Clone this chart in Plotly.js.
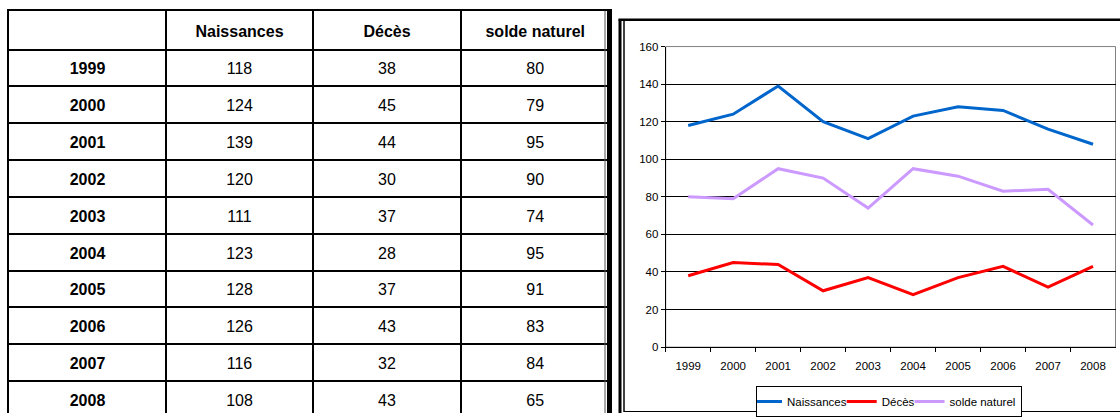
<!DOCTYPE html>
<html>
<head>
<meta charset="utf-8">
<script src="https://cdn.plot.ly/plotly-3.0.1.min.js"></script>
<style>
  html, body { margin: 0; padding: 0; background: #fff; }
  #chart { width: 1120px; height: 417px; }
</style>
</head>
<body>
<div id="chart"></div>
<script>
// ---- data ----
const years = ['1999', '2000', '2001', '2002', '2003', '2004', '2005', '2006', '2007', '2008'];
const naissances = [118, 124, 139, 120, 111, 123, 128, 126, 116, 108];
const deces = [38, 45, 44, 30, 37, 28, 37, 43, 32, 43];
const solde = [80, 79, 95, 90, 74, 95, 91, 83, 84, 65];
const seriesNames = ['Naissances', 'Décès', 'solde naturel'];
const yTicks = [0, 20, 40, 60, 80, 100, 120, 140, 160];

// ---- layout constants ----
const W = 1120, H = 417;
const FONT = 'Liberation Sans, Arial, sans-serif';
const colEdges = [9, 166, 313, 461, 609.5];
const headerH = 39, rowH = 37.2, textDrop = 2.5;
const tableTop = 11;
const tableVisible = H - tableTop;
const rowEdges = [headerH];
years.forEach((_, i) => rowEdges.push(headerH + rowH * (i + 1)));
const colCenter = i => (colEdges[i] + colEdges[i + 1]) / 2;
const rowCenter = i => headerH + rowH * (i + 0.5) + textDrop;

const traces = [];

// ---- table (drawn on its own axes) ----
traces.push({
  type: 'scatter', mode: 'text', xaxis: 'x2', yaxis: 'y2', showlegend: false, hoverinfo: 'skip',
  x: seriesNames.map((_, j) => colCenter(j + 1)),
  y: seriesNames.map(() => headerH / 2 + textDrop),
  text: seriesNames,
  textfont: { family: FONT, size: 16, color: '#000', weight: 700 }
});
traces.push({
  type: 'scatter', mode: 'text', xaxis: 'x2', yaxis: 'y2', showlegend: false, hoverinfo: 'skip',
  x: years.map(() => colCenter(0)),
  y: years.map((_, i) => rowCenter(i)),
  text: years,
  textfont: { family: FONT, size: 16, color: '#000', weight: 700 }
});
[naissances, deces, solde].forEach((arr, j) => {
  traces.push({
    type: 'scatter', mode: 'text', xaxis: 'x2', yaxis: 'y2', showlegend: false, hoverinfo: 'skip',
    x: arr.map(() => colCenter(j + 1)),
    y: arr.map((_, i) => rowCenter(i)),
    text: arr.map(String),
    textfont: { family: FONT, size: 16, color: '#000' }
  });
});

// ---- line chart ----
const colors = ['#0066CC', '#FF0000', '#CC99FF'];
[naissances, deces, solde].forEach((arr, j) => {
  traces.push({
    type: 'scatter', mode: 'lines', xaxis: 'x', yaxis: 'y',
    name: seriesNames[j], x: years, y: arr,
    line: { color: colors[j], width: 3 },
    hoverinfo: 'skip'
  });
});

const px = v => v / W;
const py = v => 1 - v / H;

const layout = {
  width: W, height: H,
  margin: { l: 0, r: 0, t: 0, b: 0, pad: 0 },
  paper_bgcolor: '#fff', plot_bgcolor: 'rgba(0,0,0,0)',
  font: { family: FONT, color: '#000', size: 11.5 },
  hovermode: false,
  showlegend: true,
  legend: {
    orientation: 'h', x: px(756), y: py(390), xanchor: 'left', yanchor: 'top',
    bordercolor: '#000', borderwidth: 1, bgcolor: '#fff',
    font: { family: FONT, size: 11.5, color: '#000' },
    itemwidth: 30, indentation: -10, tracegroupgap: 0
  },
  xaxis: {
    type: 'category', domain: [px(665.7), px(1115.5)], anchor: 'y',
    range: [-0.5, years.length - 0.5],
    tickson: 'boundaries', ticks: 'outside', ticklen: 4, tickwidth: 1, tickcolor: '#000',
    ticklabelstandoff: 8,
    showgrid: false, showline: true, linecolor: '#000', linewidth: 1,
    tickfont: { family: FONT, size: 11.5, color: '#000' }, zeroline: false, fixedrange: true
  },
  yaxis: {
    domain: [1 - 350.5 / H, 1 - 47 / H], anchor: 'x',
    range: [0, 160], tickmode: 'array', tickvals: yTicks,
    ticks: 'outside', ticklen: 4, tickwidth: 1, tickcolor: '#000',
    showgrid: true, gridcolor: '#000', gridwidth: 1,
    showline: true, linecolor: '#000', linewidth: 1, zeroline: false,
    tickfont: { family: FONT, size: 11.5, color: '#000' }, fixedrange: true
  },
  xaxis2: {
    domain: [px(colEdges[0]), px(colEdges[4])], anchor: 'y2',
    range: [colEdges[0], colEdges[4]], side: 'top',
    tickmode: 'array', tickvals: colEdges.slice(1, 4),
    showticklabels: false, ticks: '', showgrid: true, gridcolor: '#000', gridwidth: 2,
    showline: true, linecolor: '#000', linewidth: 2, zeroline: false, fixedrange: true
  },
  yaxis2: {
    domain: [0, tableVisible / H], anchor: 'x2',
    range: [tableVisible, 0],
    tickmode: 'array', tickvals: rowEdges,
    showticklabels: false, ticks: '', showgrid: true, gridcolor: '#000', gridwidth: 2,
    showline: true, mirror: true, linecolor: '#000', linewidth: 2, zeroline: false, fixedrange: true
  },
  shapes: [
    // plot-area border (top/right grey)
    { type: 'rect', xref: 'x domain', yref: 'y domain', x0: 0, x1: 1, y0: 0, y1: 1,
      line: { color: '#808080', width: 1 }, layer: 'below' },
    // table right edge (thin grey + thick black)
    { type: 'line', xref: 'paper', yref: 'paper', x0: px(605), x1: px(605), y0: 0, y1: py(tableTop),
      line: { color: '#555', width: 1 } },
    { type: 'line', xref: 'paper', yref: 'paper', x0: px(609.5), x1: px(609.5), y0: 0, y1: py(tableTop - 1),
      line: { color: '#000', width: 5 } },
    // chart outer frame
    { type: 'line', xref: 'paper', yref: 'paper', x0: px(620), x1: px(620), y0: 0, y1: py(19.5),
      line: { color: '#000', width: 3 } },
    { type: 'line', xref: 'paper', yref: 'paper', x0: px(618.5), x1: 1, y0: py(20), y1: py(20),
      line: { color: '#000', width: 2.5 } },
    { type: 'line', xref: 'paper', yref: 'paper', x0: px(624), x1: px(624), y0: py(416), y1: py(20),
      line: { color: '#000', width: 1.5 } },
    { type: 'line', xref: 'paper', yref: 'paper', x0: px(624), x1: 1, y0: py(415.5), y1: py(415.5),
      line: { color: '#000', width: 1 } }
  ]
};

Plotly.newPlot('chart', traces, layout, { displayModeBar: false, staticPlot: true });
</script>
</body>
</html>
